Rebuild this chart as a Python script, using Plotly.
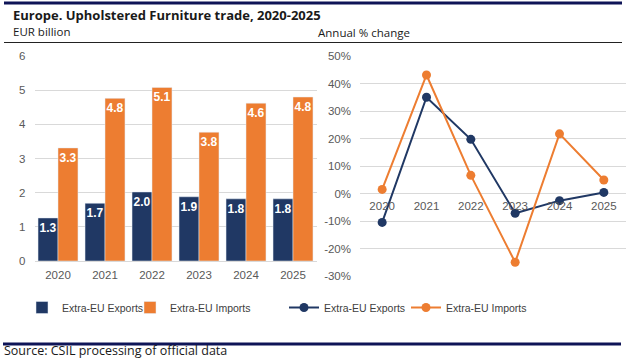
import plotly.graph_objects as go

years = ["2020", "2021", "2022", "2023", "2024", "2025"]
exports_bn = [1.26, 1.69, 2.02, 1.88, 1.82, 1.82]
imports_bn = [3.31, 4.76, 5.08, 3.77, 4.62, 4.80]
exports_pct = [-10.5, 35.0, 19.7, -7.2, -2.6, 0.4]
imports_pct = [1.5, 43.1, 6.6, -25.0, 21.7, 4.9]
left_ticks = [0, 1, 2, 3, 4, 5, 6]
right_ticks = [-30, -20, -10, 0, 10, 20, 30, 40, 50]
right_ticklabels = [f"{v}%" for v in right_ticks]

NAVY = "#203864"
ORANGE = "#ED7D31"
GRID = "#D9D9D9"
TICK = "#595959"
NARROW = "Liberation Sans Narrow, Arial Narrow, Liberation Sans, Arial, sans-serif"
SANS = "Open Sans, Noto Sans, sans-serif"

W, H = 626, 359

def fy(px):
    return 1 - px / H

def fx(px):
    return px / W

fig = go.Figure()

barfont = dict(color="white", size=12, family=NARROW, weight="bold")
fig.add_trace(go.Bar(x=years, y=exports_bn, name="Extra-EU Exports", marker_color=NAVY,
                     texttemplate="%{y:.1f}", textposition="inside", insidetextanchor="end",
                     textangle=0, constraintext="none", textfont=barfont,
                     xaxis="x", yaxis="y", legend="legend"))
fig.add_trace(go.Bar(x=years, y=imports_bn, name="Extra-EU Imports", marker_color=ORANGE,
                     texttemplate="%{y:.1f}", textposition="inside", insidetextanchor="end",
                     textangle=0, constraintext="none", textfont=barfont,
                     xaxis="x", yaxis="y", legend="legend2"))

fig.add_trace(go.Scatter(x=years, y=exports_pct, name="Extra-EU Exports", mode="lines+markers",
                         line=dict(color=NAVY, width=2), marker=dict(color=NAVY, size=9),
                         xaxis="x2", yaxis="y2", legend="legend3"))
fig.add_trace(go.Scatter(x=years, y=imports_pct, name="Extra-EU Imports", mode="lines+markers",
                         line=dict(color=ORANGE, width=2), marker=dict(color=ORANGE, size=9),
                         xaxis="x2", yaxis="y2", legend="legend4"))

y2min, y2max = -30, 50
y2dom = [fy(276), fy(56)]
zero_pos = y2dom[0] + (0 - y2min) / (y2max - y2min) * (y2dom[1] - y2dom[0])

tickfont = dict(family=NARROW, size=11.5, color=TICK)
legfont = dict(family=NARROW, size=10.5, color="#404040")

def leg(xpx):
    return dict(orientation="h", x=fx(xpx), y=fy(293), xanchor="left", yanchor="top",
                font=legfont, bgcolor="rgba(0,0,0,0)", itemwidth=30)

fig.update_layout(
    width=W, height=H,
    margin=dict(l=0, r=0, t=0, b=0, autoexpand=False),
    paper_bgcolor="white", plot_bgcolor="white",
    barmode="group", bargap=0.15, bargroupgap=0.0,
    showlegend=True,
    xaxis=dict(domain=[fx(34.5), fx(316.5)], anchor="y", showgrid=False, automargin=False,
               showline=True, linecolor=GRID, linewidth=1, ticks="", tickfont=tickfont,
               ticklabelstandoff=3),
    yaxis=dict(domain=[fy(261), fy(56)], anchor="x", range=[0, 6], tickvals=left_ticks,
               showgrid=True, gridcolor=GRID, zeroline=False, ticks="", tickfont=tickfont,
               ticklabelstandoff=8, automargin=False),
    xaxis2=dict(domain=[fx(360), fx(626)], anchor="free", position=zero_pos, showgrid=False,
                showline=False, ticks="", tickfont=tickfont, range=[-0.5, 5.5], automargin=False,
                ticklabelstandoff=4),
    yaxis2=dict(domain=y2dom, anchor="x2", range=[y2min, y2max], tickvals=right_ticks,
                ticktext=right_ticklabels, showgrid=True, gridcolor=GRID, zeroline=False,
                ticks="", tickfont=tickfont, ticklabelstandoff=8, automargin=False),
    legend=leg(22),
    legend2=leg(130),
    legend3=leg(284),
    legend4=leg(406),
    shapes=[
        dict(type="line", xref="paper", yref="paper", x0=fx(4), x1=fx(622), y0=fy(3), y1=fy(3),
             line=dict(color="#0E1457", width=3)),
        dict(type="line", xref="paper", yref="paper", x0=fx(4), x1=fx(622), y0=fy(42.5), y1=fy(42.5),
             line=dict(color="#222222", width=1)),
        dict(type="line", xref="paper", yref="paper", x0=fx(3), x1=fx(621), y0=fy(344), y1=fy(344),
             line=dict(color="#0E1457", width=3)),
    ],
    annotations=[
        dict(text="<b>Europe. Upholstered Furniture trade, 2020-2025</b>", xref="paper", yref="paper",
             x=fx(11), y=fy(15), xanchor="left", yanchor="middle", showarrow=False,
             font=dict(family=SANS, size=13, color="#1a1a1a")),
        dict(text="EUR billion", xref="paper", yref="paper", x=fx(11), y=fy(31),
             xanchor="left", yanchor="middle", showarrow=False,
             font=dict(family=SANS, size=11.5, color="#1a1a1a")),
        dict(text="Annual % change", xref="paper", yref="paper", x=fx(316), y=fy(33),
             xanchor="left", yanchor="middle", showarrow=False,
             font=dict(family=SANS, size=11.5, color="#1a1a1a")),
        dict(text="Source: CSIL processing of official data", xref="paper", yref="paper",
             x=fx(2), y=fy(350), xanchor="left", yanchor="middle", showarrow=False,
             font=dict(family=SANS, size=12.5, color="#1a1a1a")),
    ],
)

fig.write_html("out.html", config={"displayModeBar": False},
               post_script="document.body.style.margin='0';document.body.style.overflow='hidden';")
